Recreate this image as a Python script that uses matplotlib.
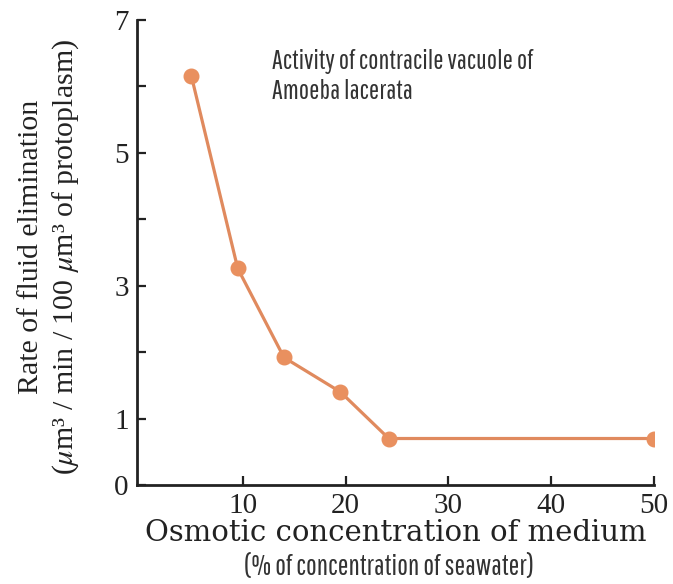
import matplotlib
matplotlib.use("Agg")
import matplotlib.pyplot as plt

# values
conc = [5, 9.5, 14, 19.5, 24.2, 50]
rate = [6.15, 3.26, 1.92, 1.40, 0.70, 0.70]
yticks = [0, 1, 2, 3, 4, 5, 6, 7]
ytick_labels = ["0", "1", "", "3", "", "5", "", "7"]
xticks = [10, 20, 30, 40, 50]

plt.rcParams['mathtext.fontset'] = 'stix'

fig = plt.figure(figsize=(6.73, 5.84), dpi=100)
ax = fig.add_axes([0.2036, 0.1695, 0.768, 0.7963])

ax.plot(conc, rate, color='#e08a5e', linewidth=2.3, marker='o',
        markersize=10.5, markerfacecolor='#e9905f', markeredgecolor='#e9905f')

ax.set_xlim(-0.3, 50)
ax.set_ylim(0, 7)
ax.set_yticks(yticks)
ax.set_yticklabels(ytick_labels)
ax.set_xticks(xticks)

for s in ['top', 'right']:
    ax.spines[s].set_visible(False)
for s in ['left', 'bottom']:
    ax.spines[s].set_linewidth(2)
    ax.spines[s].set_color('#222222')

ax.tick_params(axis='both', direction='in', length=6.5, width=1.6, color='#222222',
               labelcolor='#222222', labelfontfamily='Liberation Serif', labelsize=21)
ax.tick_params(axis='y', pad=6)
ax.tick_params(axis='x', pad=6)

# y label in two lines
fig.text(0.046, 0.577, "Rate of fluid elimination", rotation=90,
         ha='center', va='center', fontsize=21.5, family='Liberation Serif', color='#222222')
fig.text(0.098, 0.56, r"($\mu$m³ / min / 100 $\mu$m³ of protoplasm)", rotation=90,
         ha='center', va='center', fontsize=21.5, family='Liberation Serif', color='#222222')

# x label
fig.text(0.588, 0.087, "Osmotic concentration of medium", ha='center', va='center',
         fontsize=21, family='DejaVu Serif', color='#222222')
fig.text(0.578, 0.029, "(% of concentration of seawater)", ha='center', va='center',
         fontsize=20.5, family='Pathway Gothic One', color='#333333')

# annotation
fig.text(0.404, 0.8955, "Activity of contracile vacuole of",
         ha='left', va='center', fontsize=19.5, family='Pathway Gothic One', color='#333333')
fig.text(0.404, 0.8425, "Amoeba lacerata",
         ha='left', va='center', fontsize=19.5, family='Pathway Gothic One', color='#333333')

fig.savefig('out.png', dpi=100)
